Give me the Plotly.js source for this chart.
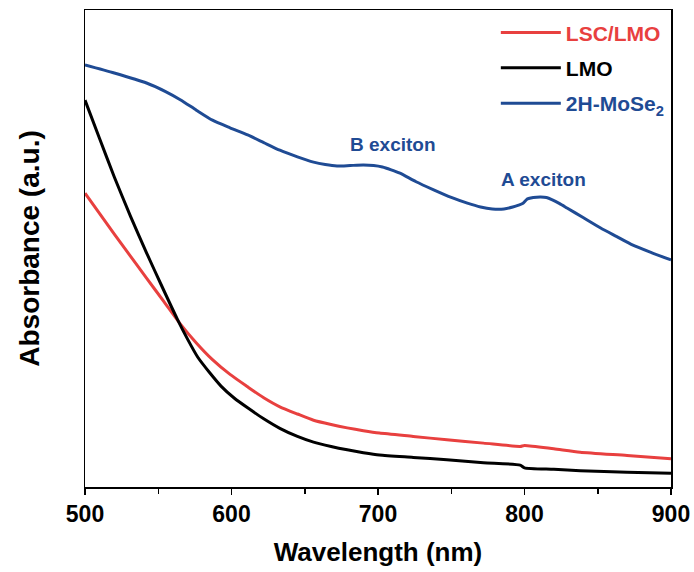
<!DOCTYPE html>
<html><head><meta charset="utf-8">
<script src="https://cdn.plot.ly/plotly-3.0.1.min.js"></script>
<style>body{margin:0;background:#fff}#c{width:694px;height:572px}</style>
</head><body><div id="c"></div>
<script>
// Wavelength (nm) and absorbance (a.u., arbitrary scale)
const wlMoSe2 = [500,520,542,555,565,576,587,599,611,622,633,645,656,664,672,681,690,697,703,709,715,726,738,750,761,770,778,786,792,796,799,802,806,811,815,819,824,829,840,852,863,874,887,900];
const absMoSe2 = [0.885,0.868,0.847,0.829,0.812,0.790,0.769,0.753,0.738,0.722,0.706,0.692,0.681,0.676,0.673,0.674,0.675,0.674,0.671,0.665,0.658,0.640,0.623,0.607,0.595,0.587,0.583,0.583,0.587,0.591,0.595,0.604,0.607,0.608,0.607,0.602,0.594,0.585,0.565,0.543,0.525,0.507,0.491,0.476];
const wlLMO = [500,510,520,531,542,552,563,570,577,585,593,602,611,622,633,645,656,668,679,690,701,724,747,772,797,800,820,838,870,900];
const absLMO = [0.811,0.730,0.650,0.568,0.491,0.424,0.352,0.310,0.272,0.240,0.211,0.186,0.166,0.143,0.123,0.106,0.094,0.085,0.078,0.072,0.067,0.062,0.057,0.051,0.046,0.040,0.037,0.034,0.031,0.029];
const wlLSC = [500,510,520,531,542,554,565,576,587,599,611,622,633,645,656,668,679,690,701,724,747,772,797,800,820,838,870,900];
const absLSC = [0.616,0.573,0.530,0.484,0.438,0.388,0.342,0.302,0.267,0.236,0.210,0.187,0.168,0.153,0.140,0.131,0.124,0.118,0.113,0.106,0.099,0.092,0.085,0.087,0.080,0.073,0.066,0.059];
const names = ['LSC/LMO','LMO','2H-MoSe<sub>2</sub>'];
const xTicks = [500,600,700,800,900];
const peakLabels = ['B exciton','A exciton'];
const peakX = [710,813];
const peakY = [0.717,0.644];

const colors = ['#e8403f','#000000','#1f4b94'];
const F = 'Arial, "Liberation Sans", sans-serif';
const series = [[wlLSC,absLSC],[wlLMO,absLMO],[wlMoSe2,absMoSe2]];
const data = series.map((s,i)=>({
  x:s[0], y:s[1], type:'scatter', mode:'lines',
  name:'<span style="color:'+colors[i]+'"><b>'+names[i]+'</b></span>',
  legendgroup:'g'+i,
  line:{color:colors[i], width:3, shape:'spline', smoothing:0.6},
  showlegend:true
}));
const layout = {
  width:694, height:572,
  margin:{l:85,r:23,t:10,b:85},
  paper_bgcolor:'#fff', plot_bgcolor:'#fff',
  font:{family:F, color:'#000'},
  showlegend:true,
  legend:{x:0.998,xanchor:'right',y:0.995,yanchor:'top',bgcolor:'rgba(0,0,0,0)',
          font:{family:F,size:21},traceorder:'grouped',tracegroupgap:5,itemwidth:60},
  xaxis:{range:[500,900], tickvals:xTicks, ticktext:xTicks.map(String),
         ticks:'outside', ticklen:6, tickwidth:1.5, tickcolor:'#000',
         minor:{dtick:50, ticks:'outside', ticklen:5, tickwidth:1.5, tickcolor:'#000'},
         showline:true, linewidth:1.5, linecolor:'#000', mirror:true, showgrid:false, zeroline:false,
         tickfont:{family:F,size:23,color:'#000',weight:'bold'},
         title:{text:'<b>Wavelength (nm)</b>', font:{family:F,size:26,color:'#000'}, standoff:16}},
  yaxis:{range:[0,1], showticklabels:false, ticks:'', showgrid:false, zeroline:false,
         showline:true, linewidth:1.5, linecolor:'#000', mirror:true,
         title:{text:'<b>Absorbance (a.u.)</b>', font:{family:F,size:28,color:'#000'}, standoff:35}},
  annotations: peakLabels.map((t,i)=>({x:peakX[i], y:peakY[i], xref:'x', yref:'y', text:'<b>'+t+'</b>',
     showarrow:false, font:{family:F,size:19,color:colors[2]}}))
};
Plotly.newPlot('c', data, layout, {displayModeBar:false, staticPlot:true});
</script></body></html>
